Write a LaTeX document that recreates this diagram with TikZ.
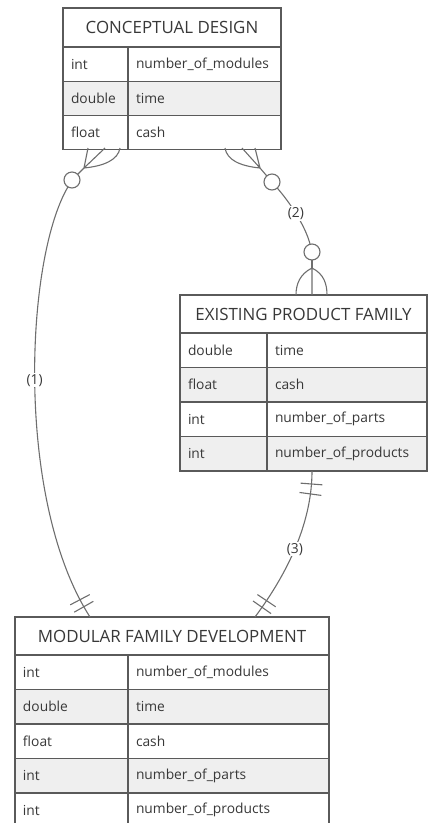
\documentclass[tikz,border=0pt]{standalone}
\usepackage{fontspec}
\setmainfont{Open Sans}
\usetikzlibrary{positioning, decorations.markings}
\definecolor{tblline}{HTML}{5A5A5A}
\definecolor{conline}{HTML}{6E6E6E}
\definecolor{rowgray}{HTML}{EFEFEF}
\definecolor{txtgray}{HTML}{383838}
\tikzset{
x=1pt, y=-1pt, % pixel-like units, y grows downwards
every node/.style={font=\fontsize{13.8}{16}\selectfont, text=txtgray, outer sep=0pt},
tblhead/.style={draw=tblline, line width=1.3pt, fill=white, anchor=north west, inner sep=0pt, minimum height=38pt, minimum width=#1, font=\fontsize{16.9}{19}\selectfont}, % table title
cell/.style={draw=tblline, line width=1.3pt, fill=white, anchor=north west, inner xsep=8pt, inner ysep=0pt, minimum height=34.5pt, text width=#1, align=left}, % one table cell
alt/.style={fill=rowgray}, % grey rows
opt/.style={draw=conline, circle, line width=1.1pt, minimum size=16pt, inner sep=0pt, fill=white}, % the "zero" circle
lbl/.style={fill=white, inner sep=1pt},
link/.style={draw=conline, line width=1.1pt},
bars/.style={postaction={decorate, decoration={markings, mark=at position #1 with {\draw[link] (0,-11pt) -- (0,11pt);}}}}, % the "one" strokes
}

\begin{document}
\begin{tikzpicture}
    \useasboundingbox (0,0) rectangle (436,823);

    % CONCEPTUAL DESIGN
    \node[tblhead=218pt, minimum height=39pt] (cd) at (63,8) {CONCEPTUAL DESIGN};
    \node[cell=49pt] (cd1t) at (cd.south west) {int};
    \node[cell=137pt] (cd1n) at (cd1t.north east) {number\_of\_modules};
    \node[cell=49pt, alt, minimum height=34pt] (cd2t) at (cd1t.south west) {double};
    \node[cell=137pt, alt, minimum height=34pt] (cd2n) at (cd2t.north east) {time};
    \node[cell=49pt, minimum height=34pt] (cd3t) at (cd2t.south west) {float};
    \node[cell=137pt, minimum height=34pt] (cd3n) at (cd3t.north east) {cash};

    % EXISTING PRODUCT FAMILY
    \node[tblhead=247pt] (epf) at (180,295) {EXISTING PRODUCT FAMILY};
    \node[cell=71pt] (epf1t) at (epf.south west) {double};
    \node[cell=144pt] (epf1n) at (epf1t.north east) {time};
    \node[cell=71pt, alt] (epf2t) at (epf1t.south west) {float};
    \node[cell=144pt, alt] (epf2n) at (epf2t.north east) {cash};
    \node[cell=71pt] (epf3t) at (epf2t.south west) {int};
    \node[cell=144pt] (epf3n) at (epf3t.north east) {number\_of\_parts};
    \node[cell=71pt, alt] (epf4t) at (epf3t.south west) {int};
    \node[cell=144pt, alt] (epf4n) at (epf4t.north east) {number\_of\_products};

    % MODULAR FAMILY DEVELOPMENT
    \node[tblhead=314pt] (mfd) at (15,617) {MODULAR FAMILY DEVELOPMENT};
    \node[cell=97pt] (mfd1t) at (mfd.south west) {int};
    \node[cell=185pt] (mfd1n) at (mfd1t.north east) {number\_of\_modules};
    \node[cell=97pt, alt] (mfd2t) at (mfd1t.south west) {double};
    \node[cell=185pt, alt] (mfd2n) at (mfd2t.north east) {time};
    \node[cell=97pt] (mfd3t) at (mfd2t.south west) {float};
    \node[cell=185pt] (mfd3n) at (mfd3t.north east) {cash};
    \node[cell=97pt, alt] (mfd4t) at (mfd3t.south west) {int};
    \node[cell=185pt, alt] (mfd4n) at (mfd4t.north east) {number\_of\_parts};
    \node[cell=97pt] (mfd5t) at (mfd4t.south west) {int};
    \node[cell=185pt] (mfd5n) at (mfd5t.north east) {number\_of\_products};

    % crow's feet and end points
    \coordinate (cdl) at (84,168);
    \coordinate (cdr) at (260,168);
    \coordinate (epft) at (312,268);
    \coordinate (epfb) at (312,471);
    \coordinate (mfdl) at (90,617);
    \coordinate (mfdr) at (255,617);
    \node[opt] (o1) at (72,180) {};
    \node[opt] (o2) at (272,182) {};
    \node[opt] (o3) at (312,252) {};

    \draw[link] (cdl) -- (88,148) (cdl) -- (105,148)
        (cdl) .. controls (104,166) and (118,160) .. (120,148);
    \draw[link] (cdr) -- (255,148) (cdr) -- (242,148)
        (cdr) .. controls (240,166) and (227,160) .. (225,148);
    \draw[link] (epft) -- (312,295)
        (epft) .. controls (300,274) and (296,284) .. (296,295)
        (epft) .. controls (324,274) and (327,284) .. (327,295);

    % (1)
    \draw[link] (cdl) -- (o1);
    \draw[link, bars=-12pt, bars=-20pt] (o1) .. controls (25,260) and (15,500) .. (mfdl)
        node[lbl, pos=0.49] (l1) {(1)};
    % (2)
    \draw[link] (cdr) -- (o2);
    \draw[link] (o2) .. controls (292,205) and (306,228) .. (o3)
        node[lbl, pos=0.45] (l2) {(2)};
    \draw[link] (o3) -- (epft);
    % (3)
    \draw[link, bars=13pt, bars=23pt, bars=-12pt, bars=-20pt] (epfb) .. controls (312,520) and (290,570) .. (mfdr)
        node[lbl, pos=0.53] (l3) {(3)};
\end{tikzpicture}
\end{document}
